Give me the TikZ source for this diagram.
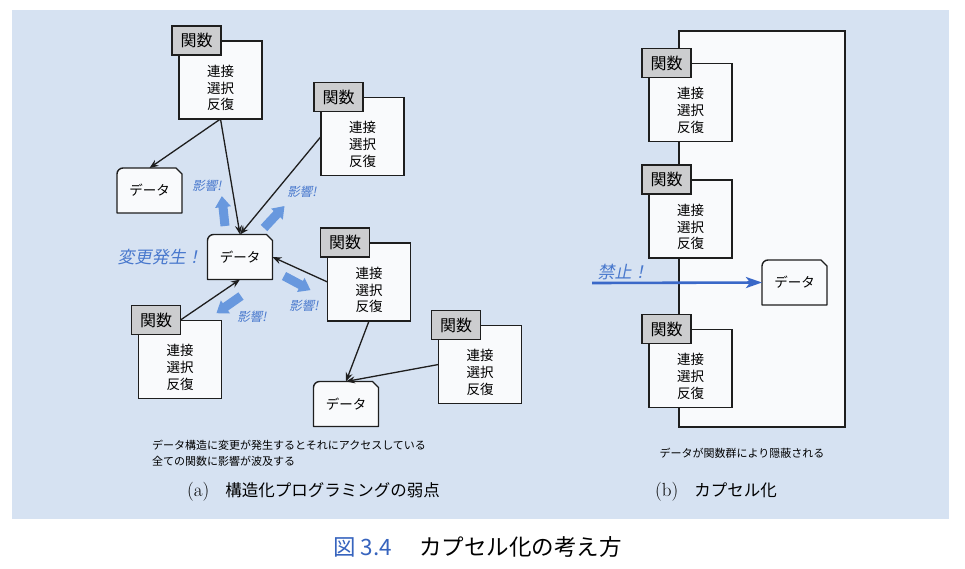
\documentclass[tikz,border=0pt]{standalone}
\usepackage{fontspec}
\usepackage{xcolor}
\usepackage{tikz}
\usetikzlibrary{positioning,arrows.meta}

\newfontfamily\cjk{Noto Sans CJK JP}
\newfontfamily\cjkit[FakeSlant=0.2]{Noto Sans CJK JP}

\definecolor{bgblue}{RGB}{214,226,242}
\definecolor{boxfill}{RGB}{249,250,252}
\definecolor{labgray}{RGB}{204,205,207}
\definecolor{fatblue}{RGB}{104,152,222}
\definecolor{txtblue}{RGB}{72,120,205}
\definecolor{lineblue}{RGB}{58,104,200}
\definecolor{capblue}{RGB}{55,100,190}
\definecolor{ink}{RGB}{30,30,30}

\tikzset{
  funcbox/.style={draw=ink, line width=1.4pt, fill=boxfill, minimum width=83pt, minimum height=78pt, inner sep=0pt, outer sep=0pt},
  functext/.style={font=\cjk\fontsize{13.5}{16.7}\selectfont, align=center, inner sep=0pt},
  funclabel/.style={draw=ink, line width=1.4pt, fill=labgray, minimum width=49pt, minimum height=29pt, inner sep=0pt, outer sep=0pt, font=\cjk\fontsize{16}{18}\selectfont},
  datanode/.style={minimum width=65pt, minimum height=45pt, inner sep=0pt, outer sep=0pt},
  datatext/.style={font=\cjk\fontsize{13.5}{16}\selectfont, inner sep=0pt},
  conn/.style={draw=ink, line width=1.3pt, -{Stealth[length=9pt,width=7pt,inset=3pt]}},
  banarrow/.style={draw=lineblue, line width=2.6pt, -{Stealth[length=16pt,width=11pt,inset=4pt]}},
  hint/.style={font=\cjkit\fontsize{12.5}{14}\selectfont, text=txtblue, inner sep=0pt},
  shout/.style={font=\cjkit\fontsize{17}{19}\selectfont, text=txtblue, inner sep=0pt},
  note/.style={font=\cjk\fontsize{11}{16}\selectfont, align=left, inner sep=0pt},
  sub/.style={font=\cjk\fontsize{16.5}{18}\selectfont, inner sep=0pt},
  captionfont/.style={font=\cjk\fontsize{22.5}{25}\selectfont, inner sep=0pt},
}

% function box: name, x, y (centre of the main box)
\newcommand{\funcblock}[3]{%
  \node[funcbox] (#1) at (#2,#3) {};
  \node[functext] (#1t) at ([yshift=-8pt]#1.center) {連接\\選択\\反復};
  \node[funclabel, anchor=north west] (#1l) at ([xshift=-7pt,yshift=15pt]#1.north west) {関数};
}
% data box: name, x, y
\newcommand{\datablock}[3]{%
  \node[datanode] (#1) at (#2,#3) {};
  \draw[draw=ink, line width=1.4pt, fill=boxfill, line join=round]
    (#1.south west) -- ([yshift=-6pt]#1.north west)
    arc[start angle=180, end angle=90, radius=6pt]
    -- ([xshift=-6pt]#1.north east) -- ([yshift=-6pt]#1.north east)
    -- (#1.south east) -- cycle;
  \node[datatext] (#1t) at (#1.center) {データ};
}
% fat blue arrow: x, y (tail), angle
\newcommand{\fatarrow}[3]{%
  \fill[fatblue, shift={(#1,#2)}, rotate=#3]
    (0pt,-4.5pt) -- (19pt,-4.5pt) -- (19pt,-8pt) -- (30pt,0pt)
    -- (19pt,8pt) -- (19pt,4.5pt) -- (0pt,4.5pt) -- cycle;
}
\newcommand{\latinsub}[1]{{\fontspec{Latin Modern Roman}\fontsize{19}{20}\selectfont #1}}

\begin{document}
\begin{tikzpicture}[x=1pt,y=-1pt]
  \useasboundingbox (0,0) rectangle (965,568);
  \fill[white]  (0,0)   rectangle (965,568);
  \fill[bgblue] (12,10) rectangle (949,519);

  % (a) left panel
  \fatarrow{225}{226}{96}
  \fatarrow{264}{228}{47}
  \fatarrow{284}{276}{-28}
  \fatarrow{241}{296}{215}

  \funcblock{f1}{220.5}{80}
  \funcblock{f2}{362.5}{136.5}
  \funcblock{f3}{369}{282}
  \funcblock{f4}{180}{359.5}
  \funcblock{f5}{480}{364.5}

  \datablock{d1}{149.5}{190.5}
  \datablock{d2}{240}{257}
  \datablock{d3}{346}{404}

  \path
  (f1.south)  edge[conn] (d1.north)
  (f1.south)  edge[conn] (d2.north)
  (f2.west)   edge[conn] (d2.north)
  (f3.west)   edge[conn] (d2.east)
  (f4l.east)  edge[conn] (d2.south)
  (f3.south)  edge[conn] (d3.north)
  (f5.west)   edge[conn] (d3.north);

  \node[hint]  (h1)  at (207,186) {影響!};
  \node[hint]  (h2)  at (302,192) {影響!};
  \node[hint]  (h3)  at (304,306) {影響!};
  \node[hint]  (h4)  at (252,317) {影響!};
  \node[shout] (chg) at (160,257) {変更発生！};

  \node[note, anchor=north west] (notea) at (152,439.5)
    {データ構造に変更が発生するとそれにアクセスしている\\全ての関数に影響が波及する};
  \node[sub, anchor=west] (suba) at (187,492) {\latinsub{(a)}\hspace{16pt}構造化プログラミングの弱点};

  % (b) right panel
  \node[draw=ink, line width=1.4pt, fill=boxfill, minimum width=166pt, minimum height=396pt,
        inner sep=0pt, outer sep=0pt] (capsule) at (762,229) {};

  \funcblock{fa}{690.5}{102.5}
  \funcblock{fb}{690.5}{219}
  \funcblock{fc}{690.5}{368.5}

  \datablock{dr}{794.5}{282.5}

  \coordinate (banstart) at (592,283);
  \draw[banarrow] (banstart) -- (dr.west);
  \node[shout] (ban) at (623,272) {禁止！};

  \node[note] (noteb) at (742,453) {データが関数群により隠蔽される};
  \node[sub, anchor=west] (subb) at (655,492) {\latinsub{(b)}\hspace{16pt}カプセル化};

  % caption
  \node[captionfont, text=capblue, anchor=west] (capnum)  at (333,547) {図 3.4};
  \node[captionfont, anchor=west]               (captext) at (419,547) {カプセル化の考え方};
\end{tikzpicture}
\end{document}
